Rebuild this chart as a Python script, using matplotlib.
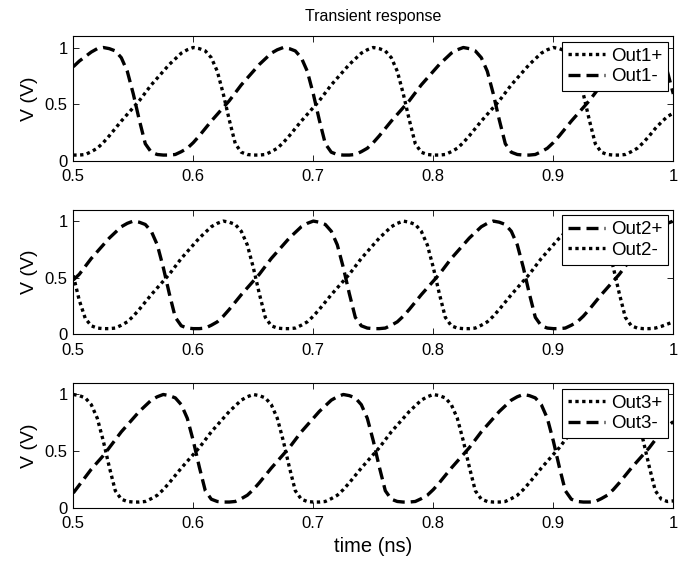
import numpy as np
import matplotlib
matplotlib.use("Agg")
import matplotlib.pyplot as plt

# sampled transient waveforms, 0.5 .. 1.0 ns, 5 ps step (101 samples)
time_ns = np.linspace(0.5, 1.0, 101)

out3_p = [1.00, 0.99, 0.97, 0.91, 0.79, 0.59, 0.36, 0.15, 0.075, 0.055, 0.05, 0.05, 0.055, 0.08, 0.11, 0.16, 0.22, 0.285, 0.35, 0.41, 0.47, 0.53, 0.60, 0.67, 0.73, 0.79, 0.85, 0.90, 0.95, 0.98,
          1.00, 0.99, 0.97, 0.91, 0.79, 0.59, 0.36, 0.15, 0.075, 0.055, 0.05, 0.05, 0.055, 0.08, 0.11, 0.16, 0.22, 0.285, 0.35, 0.41, 0.47, 0.53, 0.60, 0.67, 0.73, 0.79, 0.85, 0.90, 0.95, 0.98,
          1.00, 0.99, 0.97, 0.91, 0.79, 0.59, 0.36, 0.15, 0.075, 0.055, 0.05, 0.05, 0.055, 0.08, 0.11, 0.16, 0.22, 0.285, 0.35, 0.41, 0.47, 0.53, 0.60, 0.67, 0.73, 0.79, 0.85, 0.90, 0.95, 0.98,
          1.00, 0.99, 0.97, 0.91, 0.79, 0.59, 0.36, 0.15, 0.075, 0.055, 0.06]

out1_m = [0.83, 0.88, 0.92, 0.96, 0.99,
          1.00, 0.99, 0.97, 0.91, 0.79, 0.59, 0.36, 0.15, 0.075, 0.055, 0.05, 0.05, 0.055, 0.08, 0.11, 0.16, 0.22, 0.285, 0.35, 0.41, 0.47, 0.53, 0.60, 0.67, 0.73, 0.79, 0.85, 0.90, 0.95, 0.98,
          1.00, 0.99, 0.97, 0.91, 0.79, 0.59, 0.36, 0.15, 0.075, 0.055, 0.05, 0.05, 0.055, 0.08, 0.11, 0.16, 0.22, 0.285, 0.35, 0.41, 0.47, 0.53, 0.60, 0.67, 0.73, 0.79, 0.85, 0.90, 0.95, 0.98,
          1.00, 0.99, 0.97, 0.91, 0.79, 0.59, 0.36, 0.15, 0.075, 0.055, 0.05, 0.05, 0.055, 0.08, 0.11, 0.16, 0.22, 0.285, 0.35, 0.41, 0.47, 0.53, 0.60, 0.67, 0.73, 0.79, 0.85, 0.90, 0.95, 0.98,
          1.00, 0.99, 0.97, 0.91, 0.79, 0.59]

out2_p = [0.48, 0.53, 0.60, 0.67, 0.73, 0.79, 0.85, 0.90, 0.95, 0.98,
          1.00, 0.99, 0.97, 0.91, 0.79, 0.59, 0.36, 0.15, 0.075, 0.055, 0.05, 0.05, 0.055, 0.08, 0.11, 0.16, 0.22, 0.285, 0.35, 0.41, 0.47, 0.53, 0.60, 0.67, 0.73, 0.79, 0.85, 0.90, 0.95, 0.98,
          1.00, 0.99, 0.97, 0.91, 0.79, 0.59, 0.36, 0.15, 0.075, 0.055, 0.05, 0.05, 0.055, 0.08, 0.11, 0.16, 0.22, 0.285, 0.35, 0.41, 0.47, 0.53, 0.60, 0.67, 0.73, 0.79, 0.85, 0.90, 0.95, 0.98,
          1.00, 0.99, 0.97, 0.91, 0.79, 0.59, 0.36, 0.15, 0.075, 0.055, 0.05, 0.05, 0.055, 0.08, 0.11, 0.16, 0.22, 0.285, 0.35, 0.41, 0.47, 0.53, 0.60, 0.67, 0.73, 0.79, 0.85, 0.90, 0.95, 0.98,
          1.00]

out3_m = [0.13, 0.20, 0.27, 0.34, 0.40, 0.46, 0.53, 0.60, 0.67, 0.73, 0.79, 0.85, 0.90, 0.95, 0.98,
          1.00, 0.99, 0.97, 0.91, 0.79, 0.59, 0.36, 0.15, 0.075, 0.055, 0.05, 0.05, 0.055, 0.08, 0.11, 0.16, 0.22, 0.285, 0.35, 0.41, 0.47, 0.53, 0.60, 0.67, 0.73, 0.79, 0.85, 0.90, 0.95, 0.98,
          1.00, 0.99, 0.97, 0.91, 0.79, 0.59, 0.36, 0.15, 0.075, 0.055, 0.05, 0.05, 0.055, 0.08, 0.11, 0.16, 0.22, 0.285, 0.35, 0.41, 0.47, 0.53, 0.60, 0.67, 0.73, 0.79, 0.85, 0.90, 0.95, 0.98,
          1.00, 0.99, 0.97, 0.91, 0.79, 0.59, 0.36, 0.15, 0.075, 0.055, 0.05, 0.05, 0.055, 0.08, 0.11, 0.16, 0.22, 0.285, 0.35, 0.41, 0.47, 0.53, 0.60, 0.67, 0.72, 0.76]

out1_p = [0.05, 0.05, 0.055, 0.08, 0.11, 0.16, 0.22, 0.285, 0.35, 0.41, 0.47, 0.53, 0.60, 0.67, 0.73, 0.79, 0.85, 0.90, 0.95, 0.98,
          1.00, 0.99, 0.97, 0.91, 0.79, 0.59, 0.36, 0.15, 0.075, 0.055, 0.05, 0.05, 0.055, 0.08, 0.11, 0.16, 0.22, 0.285, 0.35, 0.41, 0.47, 0.53, 0.60, 0.67, 0.73, 0.79, 0.85, 0.90, 0.95, 0.98,
          1.00, 0.99, 0.97, 0.91, 0.79, 0.59, 0.36, 0.15, 0.075, 0.055, 0.05, 0.05, 0.055, 0.08, 0.11, 0.16, 0.22, 0.285, 0.35, 0.41, 0.47, 0.53, 0.60, 0.67, 0.73, 0.79, 0.85, 0.90, 0.95, 0.98,
          1.00, 0.99, 0.97, 0.91, 0.79, 0.59, 0.36, 0.15, 0.075, 0.055, 0.05, 0.05, 0.055, 0.08, 0.11, 0.16, 0.22, 0.285, 0.34, 0.39, 0.42]

out2_m = [0.52, 0.30, 0.14, 0.075, 0.055, 0.05, 0.05, 0.055, 0.08, 0.11, 0.16, 0.22, 0.285, 0.35, 0.41, 0.47, 0.53, 0.60, 0.67, 0.73, 0.79, 0.85, 0.90, 0.95, 0.98,
          1.00, 0.99, 0.97, 0.91, 0.79, 0.59, 0.36, 0.15, 0.075, 0.055, 0.05, 0.05, 0.055, 0.08, 0.11, 0.16, 0.22, 0.285, 0.35, 0.41, 0.47, 0.53, 0.60, 0.67, 0.73, 0.79, 0.85, 0.90, 0.95, 0.98,
          1.00, 0.99, 0.97, 0.91, 0.79, 0.59, 0.36, 0.15, 0.075, 0.055, 0.05, 0.05, 0.055, 0.08, 0.11, 0.16, 0.22, 0.285, 0.35, 0.41, 0.47, 0.53, 0.60, 0.67, 0.73, 0.79, 0.85, 0.90, 0.95, 0.98,
          1.00, 0.99, 0.97, 0.91, 0.79, 0.59, 0.36, 0.15, 0.075, 0.055, 0.05, 0.05, 0.055, 0.07, 0.09, 0.11]

x_ticks = [0.5, 0.6, 0.7, 0.8, 0.9, 1.0]
x_tick_labels = ["0.5", "0.6", "0.7", "0.8", "0.9", "1"]
y_ticks = [0, 0.5, 1]
y_tick_labels = ["0", "0.5", "1"]

DOTTED = (0, (1.0, 1.05))
DASHED = (0, (3.6, 1.8))

# (series, label, linestyle) per panel, in legend order
panels = [
    [(out1_p, "Out1+", DOTTED), (out1_m, "Out1-", DASHED)],
    [(out2_p, "Out2+", DASHED), (out2_m, "Out2-", DOTTED)],
    [(out3_p, "Out3+", DOTTED), (out3_m, "Out3-", DASHED)],
]

plt.rcParams["font.family"] = ["Liberation Sans", "DejaVu Sans"]
plt.rcParams["font.size"] = 12

fig = plt.figure(figsize=(6.94, 5.61), dpi=100)
bottoms = [0.7135, 0.4041, 0.095]
axes = [fig.add_axes([0.1056, b, 0.8646, 0.222]) for b in bottoms]

for ax, series in zip(axes, panels):
    for values, label, ls in series:
        assert len(values) == len(time_ns)
        ax.plot(time_ns, values, color="black", linestyle=ls, linewidth=2.4,
                dash_capstyle="butt", label=label)
    ax.set_xlim(0.5, 1.0)
    ax.set_ylim(0, 1.1)
    ax.set_xticks(x_ticks)
    ax.set_xticklabels(x_tick_labels)
    ax.set_yticks(y_ticks)
    ax.set_yticklabels(y_tick_labels)
    ax.tick_params(direction="in", top=True, right=True, length=4, width=0.6,
                   labelsize=12, pad=4)
    ax.tick_params(axis="x", pad=6)
    for sp in ax.spines.values():
        sp.set_linewidth(0.8)
    ax.set_ylabel("V (V)", fontsize=14, labelpad=5)
    leg = ax.legend(loc="upper right", fontsize=13.5, frameon=True, fancybox=False,
                    edgecolor="black", framealpha=1, handlelength=2.0,
                    handletextpad=0.3, labelspacing=0.2, borderpad=0.3,
                    borderaxespad=0.3)
    leg.get_frame().set_linewidth(0.8)

axes[0].set_title("Transient response", fontsize=11.5, pad=11)
axes[2].set_xlabel("time (ns)", fontsize=14.5, labelpad=4)

fig.savefig("out.png", dpi=100)
